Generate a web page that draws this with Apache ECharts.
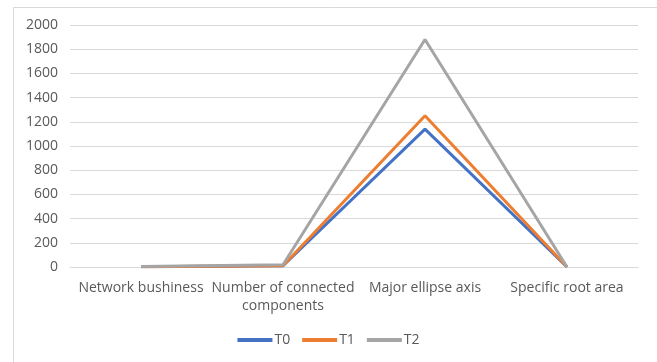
<!DOCTYPE html>
<html><head><meta charset="utf-8">
<script src="https://cdn.jsdelivr.net/npm/echarts@6/dist/echarts.min.js"></script>
<style>html,body{margin:0;padding:0;background:#fff}#c{width:657px;height:362px}</style>
</head><body><div id="c"></div>
<script>
const categories = ['Network bushiness', 'Number of connected\ncomponents', 'Major ellipse axis', 'Specific root area'];
const t0 = [3, 10, 1140, 0];
const t1 = [3, 10, 1250, 0];
const t2 = [4, 18, 1880, 0];
const seriesNames = ['T0', 'T1', 'T2'];
const colors = ['#4472C4', '#ED7D31', '#A5A5A5'];
const font = 'Open Sans';
const chart = echarts.init(document.getElementById('c'));
chart.setOption({
  animation: false,
  textStyle: {fontFamily: font},
  graphic: [{type: 'rect', shape: {x: 13.5, y: 7.5, width: 660, height: 380}, style: {fill: 'none', stroke: '#D9D9D9', lineWidth: 1}, silent: true}],
  grid: {left: 70, right: 19, top: 25, bottom: 95},
  legend: {
    data: seriesNames, bottom: 10, left: 'center', itemWidth: 35, itemHeight: 4, itemGap: 12,
    icon: 'rect',
    textStyle: {color: '#595959', fontSize: 14, fontFamily: font, padding: [0, 0, 0, -3]}
  },
  xAxis: {
    type: 'category', data: categories, boundaryGap: true,
    axisLine: {lineStyle: {color: '#D9D9D9'}}, axisTick: {show: false},
    axisLabel: {color: '#595959', fontSize: 14, fontFamily: font, margin: 12, interval: 0, lineHeight: 18}
  },
  yAxis: {
    type: 'value', min: 0, max: 2000, interval: 200,
    axisLine: {show: false}, axisTick: {show: false},
    axisLabel: {color: '#595959', fontSize: 14, fontFamily: font, margin: 12, formatter: v => String(v)},
    splitLine: {lineStyle: {color: '#D9D9D9'}}
  },
  series: [t0, t1, t2].map((d, i) => ({
    name: seriesNames[i], type: 'line', data: d, symbol: 'none',
    lineStyle: {width: 3, color: colors[i]}, itemStyle: {color: colors[i]}
  }))
});
</script></body></html>
